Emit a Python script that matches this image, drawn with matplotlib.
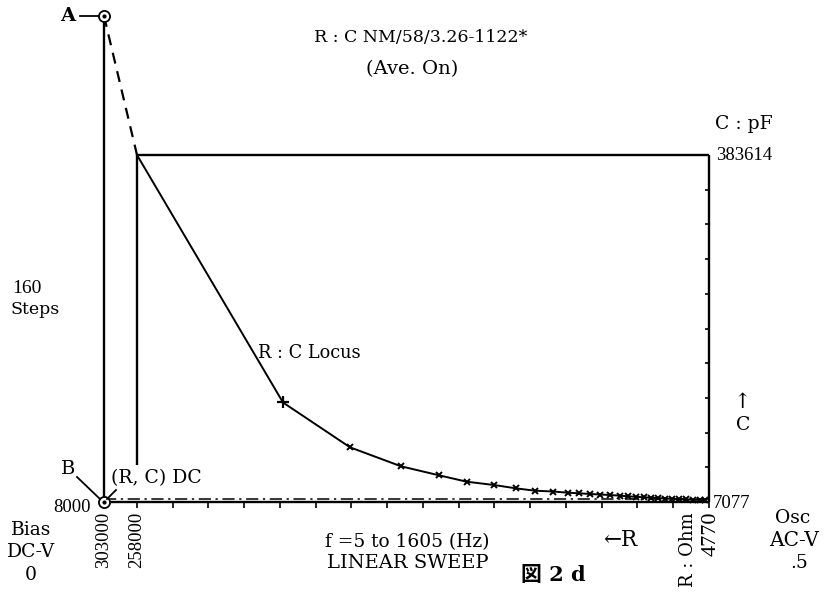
import numpy as np
import matplotlib
matplotlib.use("Agg")
import matplotlib.pyplot as plt

plt.rcParams['font.family'] = ['DejaVu Serif', 'Noto Sans CJK JP']
NUM = ['Liberation Serif', 'DejaVu Serif']

# ---- data (R in Ohm, C in pF) ----
R_top, R_bottom = 258000, 4770          # R range of the frame
C_top, C_bottom = 383614, 7077          # C range of the frame
R_dc = 272600                           # DC start column (points A / B)
C_A = 534440                            # point A
C_B = 7077                              # point B
C_dashdot = 10000                       # dash-dot baseline
C_stub_end = 47230                      # end of the inner vertical

locus_R = [258000, 193360, 163700, 141130, 124300, 112040, 99950, 90350,
           81800, 73830, 67320, 62320, 57450, 53020, 48600, 44170, 40630,
           37090, 33550, 30450, 27350, 24250, 21150, 18050, 14950, 11850,
           8760, 6540]
locus_C = [383614, 115050, 66430, 45820, 36050, 29100, 25520, 21940,
           19340, 18470, 17170, 16520, 15760, 15210, 14670, 13910, 13260,
           12720, 12180, 11740, 11310, 10870, 10550, 10220, 9900, 9570,
           9250, 8920]

x_ticks = np.linspace(R_top, R_bottom, 17)
y_ticks = np.linspace(C_bottom, C_top, 11)

W, H = 824, 595
fig = plt.figure(figsize=(W / 100, H / 100), dpi=100)
ax = fig.add_axes([137 / W, 1 - 502 / H, 572 / W, 347 / H])
ax.set_xlim(R_top, R_bottom)
ax.set_ylim(C_bottom, C_top)
for s in ax.spines.values():
    s.set_visible(False)
ax.set_xticks(x_ticks)
ax.set_yticks(y_ticks)
ax.tick_params(axis='x', direction='out', length=4, width=1.2, labelbottom=False)
ax.tick_params(axis='y', direction='in', length=3, width=1.2, left=False,
               right=True, labelleft=False, labelright=False)

lw = 1.7
kw = dict(color='black', lw=lw, clip_on=False, solid_capstyle='butt')
# frame
ax.plot([R_top, R_bottom], [C_top, C_top], **kw)
ax.plot([R_bottom, R_bottom], [C_top, C_bottom], **kw)
ax.plot([R_dc, R_bottom], [C_bottom, C_bottom], **kw)
ax.plot([R_dc, R_dc], [C_B, C_A], **kw)
ax.plot([R_top, R_top], [C_top, C_stub_end], **kw)
# dash-dot baseline
ax.plot([R_dc, R_bottom], [C_dashdot, C_dashdot], color='black', lw=1.1,
        ls=(0, (8, 3, 1.5, 3)), clip_on=False)
# dashed DC line from A
ax.plot([R_dc, locus_R[0]], [C_A, locus_C[0]], color='black', lw=1.6,
        ls=(0, (5, 3.5)), clip_on=False)
# locus
ax.plot(locus_R, locus_C, color='black', lw=1.4, clip_on=False)
ax.plot(locus_R[1:2], locus_C[1:2], ls='none', marker='+', ms=8, mew=1.6,
        color='black', clip_on=False)
ax.plot(locus_R[2:], locus_C[2:], ls='none', marker='x', ms=5, mew=1.4,
        color='black', clip_on=False)
# A / B points
for c in (C_A, C_B):
    ax.plot([R_dc], [c], marker='o', ms=8, mfc='white', mec='black', mew=1.3,
            clip_on=False, zorder=5)
    ax.plot([R_dc], [c], marker='o', ms=2, color='black', clip_on=False, zorder=6)


def T(x, y, s, **k):
    k.setdefault('fontsize', 13.5)
    k.setdefault('ha', 'center')
    k.setdefault('va', 'center')
    fig.text(x / W, 1 - y / H, s, **k)


def L(x0, y0, x1, y1, w=1.3):
    fig.add_artist(plt.Line2D([x0 / W, x1 / W], [1 - y0 / H, 1 - y1 / H],
                              color='black', lw=w, transform=fig.transFigure))


T(68, 16, 'A', fontweight='bold', fontsize=14)
L(80, 16, 99, 16)
T(68, 469, 'B', fontsize=14)
L(77, 477, 100, 499)
T(156, 478, '(R, C) DC', fontsize=13.5)
L(116, 490, 107, 499)

T(421, 37, 'R : C NM/58/3.26-1122*', fontsize=12.5)
T(412, 69, '(Ave. On)', fontsize=14)
T(744, 124, 'C : pF', fontsize=13.5)
T(744, 156, '383614', fontsize=13.5, family=NUM)
T(12, 288, '160', ha='left', fontsize=14, family=NUM)
T(11, 310, 'Steps', ha='left', fontsize=12.5)
T(309, 353, 'R : C Locus', fontsize=12.8)
T(742, 402, '↑', fontsize=15)
T(743, 425, 'C', fontsize=13.5)
T(72, 508, '8000', fontsize=13.5, family=NUM)
T(713, 504, '7077', ha='left', fontsize=13.5, family=NUM)
T(31, 530, 'Bias', fontsize=13.5)
T(31, 552, 'DC-V', fontsize=13.5)
T(31, 575, '0', fontsize=13.5)
T(104, 512, '303000', rotation=90, va='top', fontsize=13.5, family=NUM)
T(137, 512, '258000', rotation=90, va='top', fontsize=13.5, family=NUM)
T(407, 542, 'f =5 to 1605 (Hz)', fontsize=13.4)
T(408, 563, 'LINEAR SWEEP', fontsize=14)
T(620, 540, '←R', fontsize=15.5)
T(688, 512, 'R : Ohm', rotation=90, va='top', fontsize=13)
T(711, 512, '4770', rotation=90, va='top', fontsize=16, family=NUM)
T(793, 518, 'Osc', fontsize=13.5)
T(794, 540, 'AC-V', fontsize=14.5)
T(799, 563, '.5', fontsize=13.5)
T(553, 575, '図 2 d', fontsize=15, fontweight='bold')

fig.savefig('out.png', dpi=100)
